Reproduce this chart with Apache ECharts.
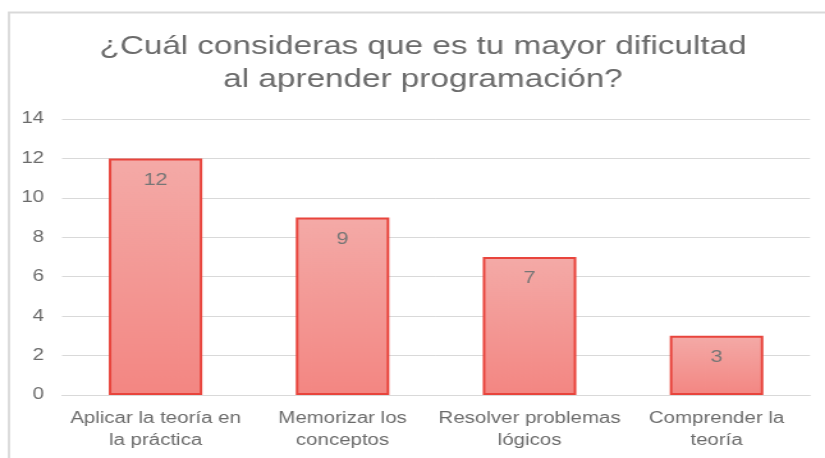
<!DOCTYPE html>
<html>
<head>
<meta charset="utf-8">
<script src="https://cdn.jsdelivr.net/npm/echarts@6/dist/echarts.min.js"></script>
<style>
  html, body { margin: 0; padding: 0; background: #fff; overflow: hidden; }
  /* la imagen original está estirada en horizontal: se dibuja más estrecho y se escala */
  #chart { width: 645px; height: 458px; transform: scaleX(1.2791); transform-origin: 0 0; }
</style>
</head>
<body>
<div id="chart"></div>
<script>
const categories = ['Aplicar la teoría en\nla práctica', 'Memorizar los\nconceptos', 'Resolver problemas\nlógicos', 'Comprender la\nteoría']
const values = [12, 9, 7, 3]
const yMax = 14
const yStep = 2

const myChart = echarts.init(document.getElementById('chart'))
const fontFamily = '"Liberation Sans", Arial, sans-serif'

const chartOption = {
  animation: false,
  textStyle: { fontFamily },
  // marco del gráfico (solo se ve arriba e izquierda)
  graphic: [{
    type: 'rect',
    left: 4.5, top: 10,
    shape: { width: 800, height: 500 },
    style: { fill: 'none', stroke: '#d9d9d9', lineWidth: 1.8 },
    silent: true
  }],
  title: {
    text: '¿Cuál consideras que es tu mayor dificultad\nal aprender programación?',
    left: 325.7,
    top: 25,
    textAlign: 'center',
    textStyle: {
      fontFamily,
      fontSize: 26,
      fontWeight: 'normal',
      color: '#6b6b6b',
      lineHeight: 33
    }
  },
  grid: { left: 48.5, right: 11.7, top: 119, bottom: 63 },
  xAxis: {
    type: 'category',
    data: categories,
    axisLine: { show: true, lineStyle: { color: '#d9d9d9', width: 1 } },
    axisTick: { show: false },
    axisLabel: {
      color: '#6b6b6b',
      fontSize: 16,
      lineHeight: 22,
      margin: 13,
      interval: 0
    }
  },
  yAxis: {
    type: 'value',
    min: 0,
    max: yMax,
    interval: yStep,
    axisLine: { show: false },
    axisTick: { show: false },
    axisLabel: { color: '#6b6b6b', fontSize: 16, margin: 14 },
    splitLine: { lineStyle: { color: '#d9d9d9', width: 1 } }
  },
  series: [{
    type: 'bar',
    data: values,
    barWidth: '50%',
    itemStyle: {
      color: new echarts.graphic.LinearGradient(0, 0, 0, 1, [
        { offset: 0, color: '#f4aaa7' },
        { offset: 1, color: '#f38682' }
      ]),
      borderColor: '#e8443c',
      borderWidth: 2
    },
    label: {
      show: true,
      position: 'insideTop',
      distance: 13,
      color: '#767676',
      fontSize: 17
    }
  }]
}

myChart.setOption(chartOption)
window.addEventListener('resize', myChart.resize)
</script>
</body>
</html>
